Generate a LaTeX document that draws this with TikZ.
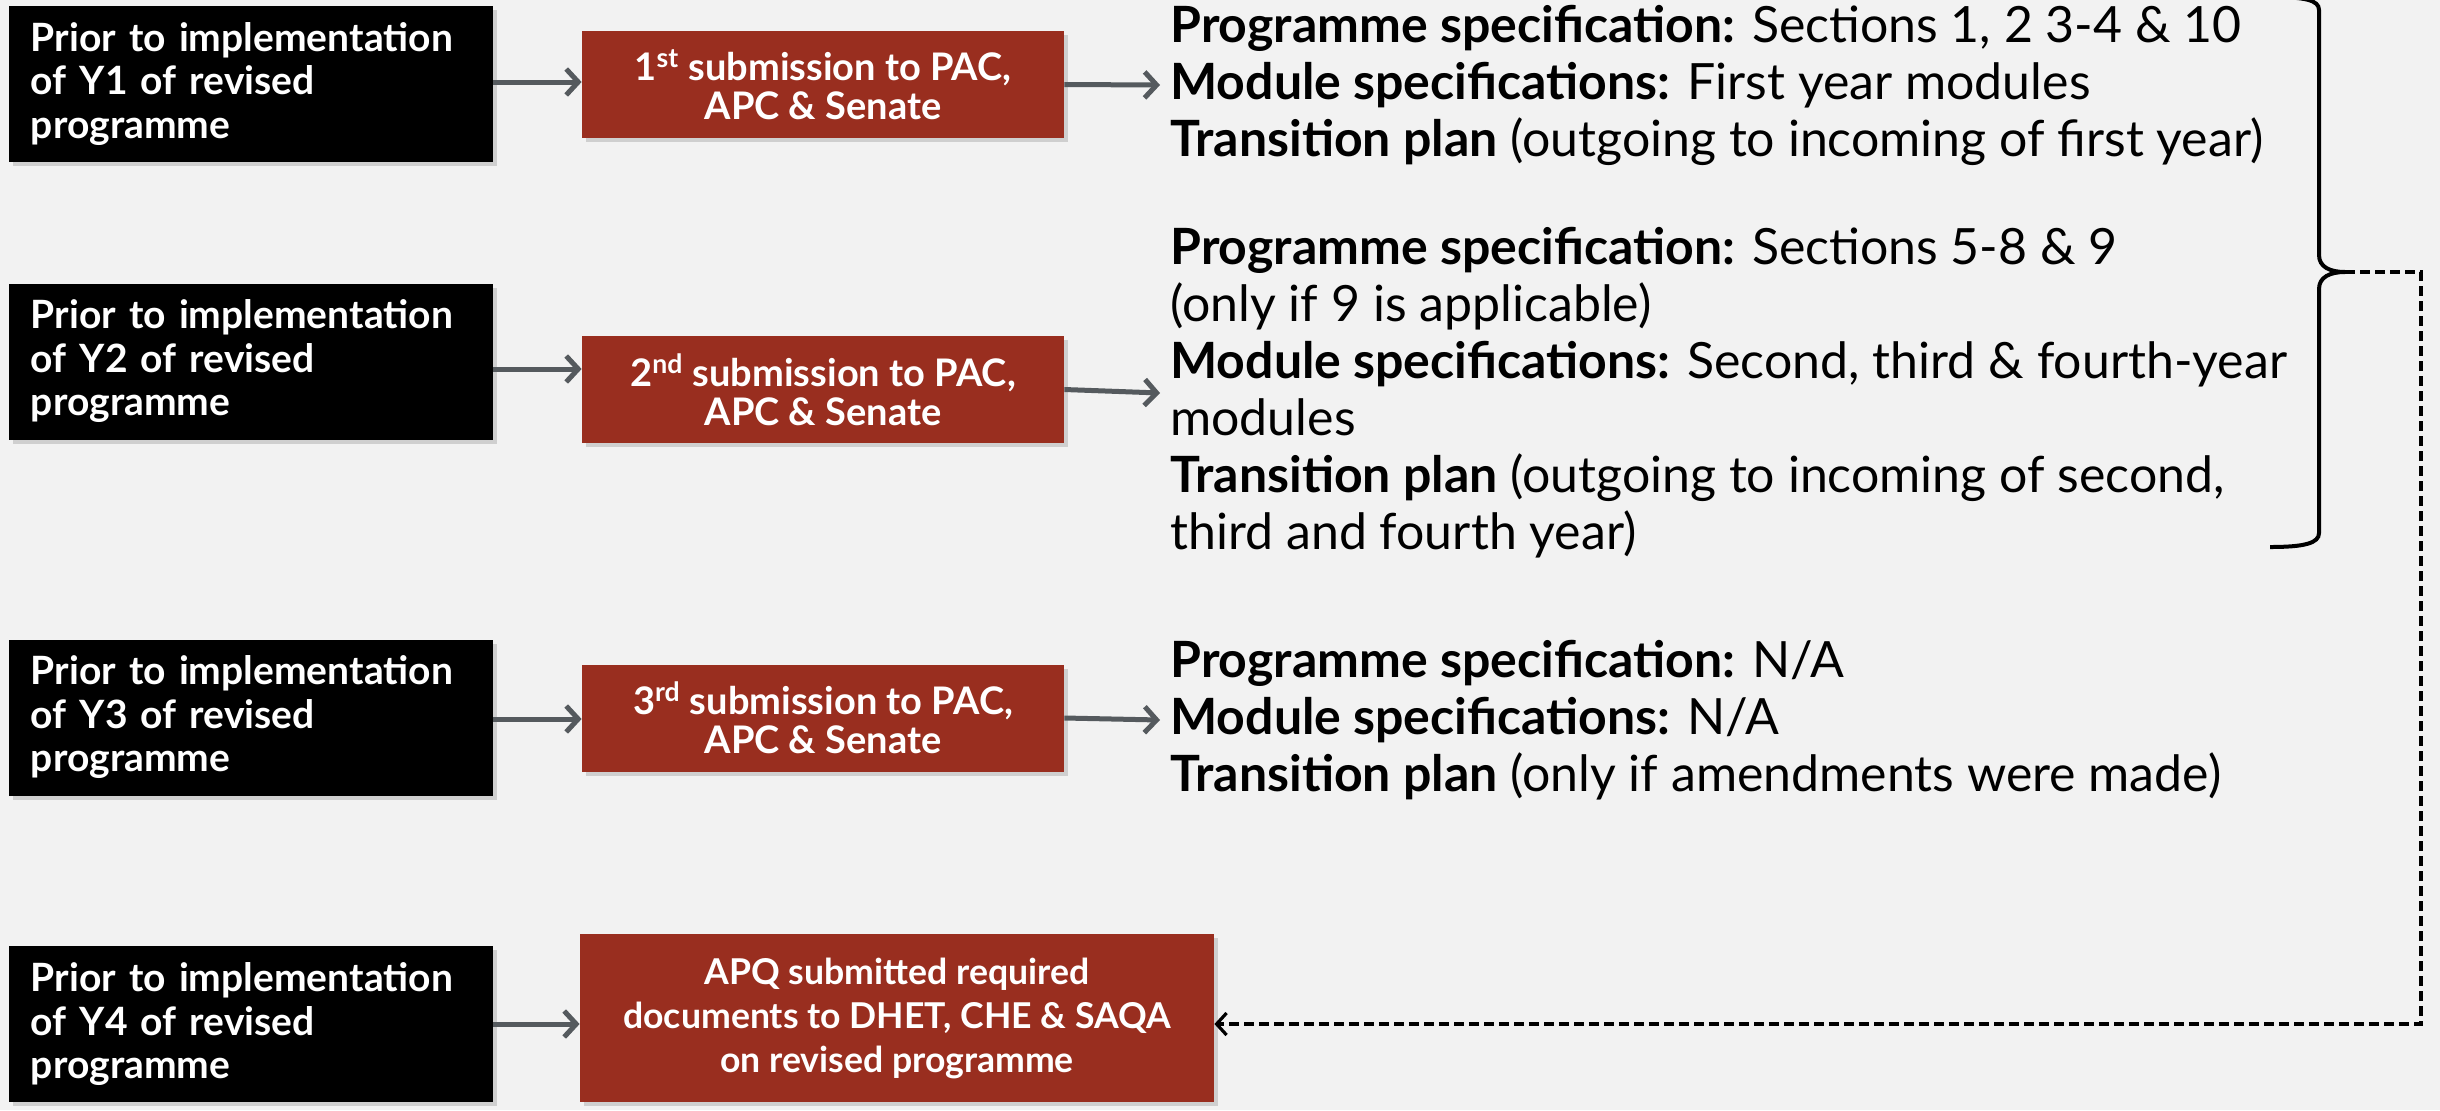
\documentclass[tikz,border=0pt]{standalone}
\usepackage{fontspec}
\setmainfont{Lato}
\usetikzlibrary{arrows.meta,shadows,calc}
\definecolor{bg}{HTML}{F2F2F2}
\definecolor{brick}{HTML}{992E1F}
\definecolor{arrgray}{HTML}{555A5E}
\begin{document}
\begin{tikzpicture}[x=0.5pt,y=-0.5pt,
 boxshadow/.style={drop shadow={opacity=0.3, shadow xshift=2pt, shadow yshift=-2pt}},
 blackbox/.style={fill=black, text=white, font=\fontsize{19.5}{21.75}\selectfont\bfseries, align=left, text width=220pt, minimum width=242pt, minimum height=78pt, inner xsep=11pt, inner ysep=0pt, boxshadow},
 redbox/.style={fill=brick, text=white, font=\fontsize{19}{19.5}\selectfont\bfseries, align=center, minimum width=241pt, minimum height=53.5pt, inner sep=0pt, boxshadow},
 garrow/.style={draw=arrgray, line width=2.5pt, -{Straight Barb[length=6pt,width=13pt,line width=2.5pt]}},
 spectext/.style={anchor=west, align=left, inner sep=0pt, font=\fontsize{25}{28.5}\selectfont},
 dashline/.style={draw=black, line width=1.6pt, dash pattern=on 5pt off 2.5pt, -{Straight Barb[length=5pt,width=11pt,line width=1.6pt]}},
 bracepath/.style={draw=black, line width=2pt},
]
\fill[bg] (0,0) rectangle (2440,1110);
\useasboundingbox (0,0) rectangle (2440,1110);

% left black boxes
\node[blackbox] (b1) at (251,84) {Prior to implementation\\of Y1 of revised\\programme};
\node[blackbox] (b2) at (251,361.5) {Prior to implementation\\of Y2 of revised\\programme};
\node[blackbox] (b3) at (251,717.5) {Prior to implementation\\of Y3 of revised\\programme};
\node[blackbox] (b4) at (251,1024) {Prior to implementation\\of Y4 of revised\\programme};

% red boxes
\node[redbox] (r1) at (823,84.5) {1\textsuperscript{st} submission to PAC,\\APC \& Senate};
\node[redbox] (r2) at (823,389.5) {2\textsuperscript{nd} submission to PAC,\\APC \& Senate};
\node[redbox] (r3) at (823,718) {3\textsuperscript{rd} submission to PAC,\\APC \& Senate};
\node[redbox, minimum width=317pt, minimum height=84pt, font=\fontsize{17.8}{22}\selectfont\bfseries] (r4) at (897,1018) {APQ submitted required\\documents to DHET, CHE \& SAQA\\on revised programme};

% spec texts
\node[spectext] (s1) at (1170,85) {\textbf{Programme specification:} Sections 1, 2 3-4 \& 10\\
\textbf{Module specifications:} First year modules\\
\textbf{Transition plan} (outgoing to incoming of first year)};
\node[spectext] (s2) at (1170,393) {\textbf{Programme specification:} Sections 5-8 \& 9\\
(only if 9 is applicable)\\
\textbf{Module specifications:} Second, third \& fourth-year\\
modules\\
\textbf{Transition plan} (outgoing to incoming of second,\\
third and fourth year)};
\node[spectext] (s3) at (1170,720) {\textbf{Programme specification:} N/A\\
\textbf{Module specifications:} N/A\\
\textbf{Transition plan} (only if amendments were made)};

% arrows black -> red
\draw[garrow] (b1.east |- 0,82) -- (r1.west |- 0,82);
\draw[garrow] (b2.east |- 0,369) -- (r2.west |- 0,369);
\draw[garrow] (b3.east |- 0,719) -- (r3.west |- 0,719);
\draw[garrow] (b4.east |- 0,1024) -- (r4.west |- 0,1024);

% arrows red -> text
\draw[garrow] (r1.east) -- ($(s1.west)+(-10,0)$);
\draw[garrow] (r2.east) -- ($(s2.west)+(-10,0)$);
\draw[garrow] (r3.east) -- ($(s3.west)+(-10,0)$);

% brace
\coordinate (tip) at (2345,272);
\draw[bracepath] (2270,-3) .. controls (2305,-3) and (2319,0) .. (2319,10)
  -- (2319,255) .. controls (2319,267) and (2330,272) .. (tip)
  .. controls (2330,272) and (2319,277) .. (2319,289)
  -- (2319,533) .. controls (2319,543) and (2305,547) .. (2270,547);

% dashed return
\coordinate (dc1) at (2421,272);
\coordinate (dc2) at (2421,1024);
\draw[dashline] (tip) -- (dc1) -- (dc2) -- (r4.east |- dc2);
\end{tikzpicture}
\end{document}
